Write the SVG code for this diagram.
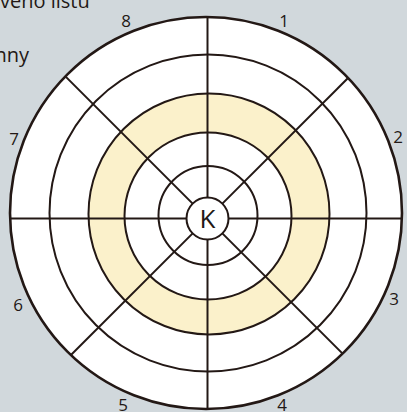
<svg xmlns="http://www.w3.org/2000/svg" width="407" height="412" viewBox="0 0 407 412">
  <style>
    .ring { fill: none; stroke: #231815; stroke-width: 2; }
    .spoke { stroke: #231815; stroke-width: 2; stroke-linecap: butt; }
    .lbl { font-family: "Open Sans", "Liberation Sans", sans-serif; font-size: 17px; fill: #231815; text-anchor: middle; }
    .txt { font-family: "Open Sans", "Liberation Sans", sans-serif; font-size: 20px; fill: #231815; }
  </style>
  <rect x="0" y="0" width="407" height="412" fill="#d1d8dc"/>
  <g id="fragment-text">
    <text class="txt" x="0" y="8">veno listu</text>
    <text class="txt" x="-5.5" y="62">nny</text>
  </g>
  <g id="disc">
    <circle cx="206" cy="213" r="196" fill="#ffffff"/>
    <circle cx="209" cy="214" r="120.5" fill="#fbf1cb"/>
    <circle cx="208" cy="216" r="83.5" fill="#ffffff"/>
  </g>
  <g id="connectors">
    <line class="spoke" x1="10" y1="218.5" x2="186.5" y2="218.5"/>
    <line class="spoke" x1="228.5" y1="218.5" x2="402" y2="218.5"/>
    <line class="spoke" x1="207.5" y1="17" x2="207.5" y2="197.5"/>
    <line class="spoke" x1="207.5" y1="239.5" x2="207.5" y2="409.5"/>
    <line class="spoke" x1="65.4" y1="76.4" x2="192.65" y2="203.65"/>
    <line class="spoke" x1="348.05" y1="77.95" x2="222.35" y2="203.65"/>
    <line class="spoke" x1="342.6" y1="353.6" x2="222.35" y2="233.35"/>
    <line class="spoke" x1="70.95" y1="355.05" x2="192.65" y2="233.35"/>
  </g>
  <g id="rings">
    <circle class="ring" cx="208" cy="213" r="158.5"/>
    <circle class="ring" cx="209" cy="214" r="120.5"/>
    <circle class="ring" cx="208" cy="216" r="83.5"/>
    <circle class="ring" cx="208" cy="215.5" r="49.5"/>
    <circle class="ring" cx="206" cy="213" r="196" style="stroke-width:2.6"/>
  </g>
  <g id="center-K">
    <circle cx="207.5" cy="218.5" r="21" fill="#ffffff" stroke="#231815" stroke-width="2"/>
    <text class="lbl" x="207.5" y="228" style="font-size:26px">K</text>
  </g>
  <g id="labels">
    <text class="lbl" x="284" y="27">1</text>
    <text class="lbl" x="398" y="143">2</text>
    <text class="lbl" x="394" y="305">3</text>
    <text class="lbl" x="282" y="411">4</text>
    <text class="lbl" x="123" y="411">5</text>
    <text class="lbl" x="18" y="311">6</text>
    <text class="lbl" x="14" y="145">7</text>
    <text class="lbl" x="126" y="27">8</text>
  </g>
</svg>
